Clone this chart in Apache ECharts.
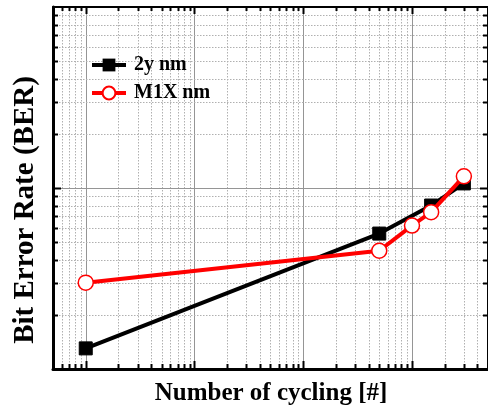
<!DOCTYPE html>
<html>
<head>
<meta charset="utf-8">
<script src="https://cdn.jsdelivr.net/npm/echarts@6/dist/echarts.min.js"></script>
<style>
  html, body { margin: 0; padding: 0; background: #fff; }
  #chart { width: 488px; height: 412px; }
</style>
</head>
<body>
<div id="chart"></div>
<script>
// Bit error rate versus program/erase cycling for two technology nodes
const seriesNames = ['2y nm', 'M1X nm'];
const cycles2y = [1, 500, 1500, 3000];
const ber2y = [1.3e-5, 5.6e-5, 8.0e-5, 1.06e-4];
const cyclesM1X = [1, 500, 1000, 1500, 3000];
const berM1X = [3.0e-5, 4.5e-5, 6.2e-5, 7.35e-5, 1.16e-4];

// axis ranges (log scales)
const xRange = [0.5, 5000];
const yRange = [1e-5, 1e-3];

const FONT = '"Liberation Serif", "Times New Roman", serif';

// Build decade / sub-decade grid positions for a log range
function logGrid(lo, hi) {
  const out = [];
  const d0 = Math.floor(Math.log10(lo));
  const d1 = Math.ceil(Math.log10(hi));
  for (let d = d0; d <= d1; d++) {
    for (let k = 1; k <= 9; k++) {
      const v = k * Math.pow(10, d);
      const eps = v * 1e-9;
      if (v > lo + eps && v < hi - eps) out.push({ v: v, major: k === 1 });
    }
  }
  return out;
}

const gridData = [];
logGrid(xRange[0], xRange[1]).forEach(g => gridData.push([g.v, 1e-4, 0, g.major ? 1 : 0]));
logGrid(yRange[0], yRange[1]).forEach(g => gridData.push([1, g.v, 1, g.major ? 1 : 0]));

function renderGrid(params, api) {
  const cs = params.coordSys;
  const left = cs.x, top = cs.y, right = cs.x + cs.width, bottom = cs.y + cs.height;
  const isY = api.value(2) === 1;
  const major = api.value(3) === 1;
  const children = [];
  const gridStyle = major
    ? { stroke: '#959595', lineWidth: 1 }
    : { stroke: '#b0b0b0', lineWidth: 1, lineDash: [1.5, 1.5] };
  const tickStyle = { stroke: '#000', lineWidth: 2 };
  const tl = major ? 8 : 5;
  if (!isY) {
    const x = Math.round(api.coord([api.value(0), 1e-4])[0]) + 0.5;
    children.push({ type: 'line', shape: { x1: x, y1: top, x2: x, y2: bottom }, style: gridStyle });
    children.push({ type: 'line', shape: { x1: x, y1: bottom, x2: x, y2: bottom - tl }, style: tickStyle });
    children.push({ type: 'line', shape: { x1: x, y1: top, x2: x, y2: top + tl - 1 }, style: tickStyle });
  } else {
    const y = Math.round(api.coord([1, api.value(1)])[1]) + 0.5;
    children.push({ type: 'line', shape: { x1: left, y1: y, x2: right, y2: y }, style: gridStyle });
    children.push({ type: 'line', shape: { x1: left, y1: y, x2: left + tl, y2: y }, style: tickStyle });
    children.push({ type: 'line', shape: { x1: right, y1: y, x2: right - tl, y2: y }, style: tickStyle });
  }
  return { type: 'group', children: children };
}

const chart = echarts.init(document.getElementById('chart'), null, { renderer: 'canvas' });

const hiddenAxisParts = {
  axisTick: { show: false },
  axisLabel: { show: false },
  splitLine: { show: false },
  minorTick: { show: false },
  minorSplitLine: { show: false }
};

chart.setOption({
  animation: false,
  backgroundColor: '#fff',
  grid: { left: 53, top: 7, right: -4.5, bottom: 43 },
  legend: {
    left: 90,
    top: 55,
    padding: 0,
    orient: 'vertical',
    itemWidth: 34,
    itemHeight: 16,
    itemGap: 8,
    lineStyle: { width: 4 },
    data: seriesNames,
    textStyle: { fontFamily: FONT, fontWeight: 'bold', fontSize: 20, color: '#000', padding: [0, 0, 0, 3] }
  },
  xAxis: [
    Object.assign({
      type: 'log', logBase: 10, min: xRange[0], max: xRange[1], position: 'bottom',
      axisLine: { show: true, onZero: false, lineStyle: { color: '#000', width: 3 } }
    }, hiddenAxisParts),
    Object.assign({
      type: 'log', logBase: 10, min: xRange[0], max: xRange[1], position: 'top',
      axisLine: { show: true, onZero: false, lineStyle: { color: '#000', width: 2 } }
    }, hiddenAxisParts)
  ],
  yAxis: [
    Object.assign({
      type: 'log', logBase: 10, min: yRange[0], max: yRange[1], position: 'left',
      axisLine: { show: true, onZero: false, lineStyle: { color: '#000', width: 3 } }
    }, hiddenAxisParts),
    Object.assign({
      type: 'log', logBase: 10, min: yRange[0], max: yRange[1], position: 'right',
      axisLine: { show: true, onZero: false, lineStyle: { color: '#000', width: 2 } }
    }, hiddenAxisParts)
  ],
  graphic: [
    {
      type: 'text', x: 271, y: 394, z: 10,
      style: { text: 'Number of cycling [#]', font: 'bold 25px ' + FONT, fill: '#000', textAlign: 'center', textVerticalAlign: 'middle' }
    },
    {
      type: 'text', x: 26, y: 210, rotation: Math.PI / 2, z: 10,
      style: { text: 'Bit Error Rate (BER)', font: 'bold 29px ' + FONT, fill: '#000', textAlign: 'center', textVerticalAlign: 'middle' }
    }
  ],
  series: [
    {
      type: 'custom',
      silent: true,
      z: 1,
      clip: false,
      renderItem: renderGrid,
      data: gridData
    },
    {
      name: seriesNames[0],
      type: 'line',
      z: 3,
      data: cycles2y.map((c, i) => [c, ber2y[i]]),
      symbol: 'rect',
      symbolSize: 13,
      itemStyle: { color: '#000', borderColor: '#000' },
      lineStyle: { color: '#000', width: 4 }
    },
    {
      name: seriesNames[1],
      type: 'line',
      z: 4,
      data: cyclesM1X.map((c, i) => [c, berM1X[i]]),
      symbol: 'circle',
      symbolSize: 15,
      itemStyle: { color: '#fff', borderColor: '#ff0000', borderWidth: 1.5 },
      lineStyle: { color: '#ff0000', width: 4 }
    }
  ]
});
</script>
</body>
</html>
